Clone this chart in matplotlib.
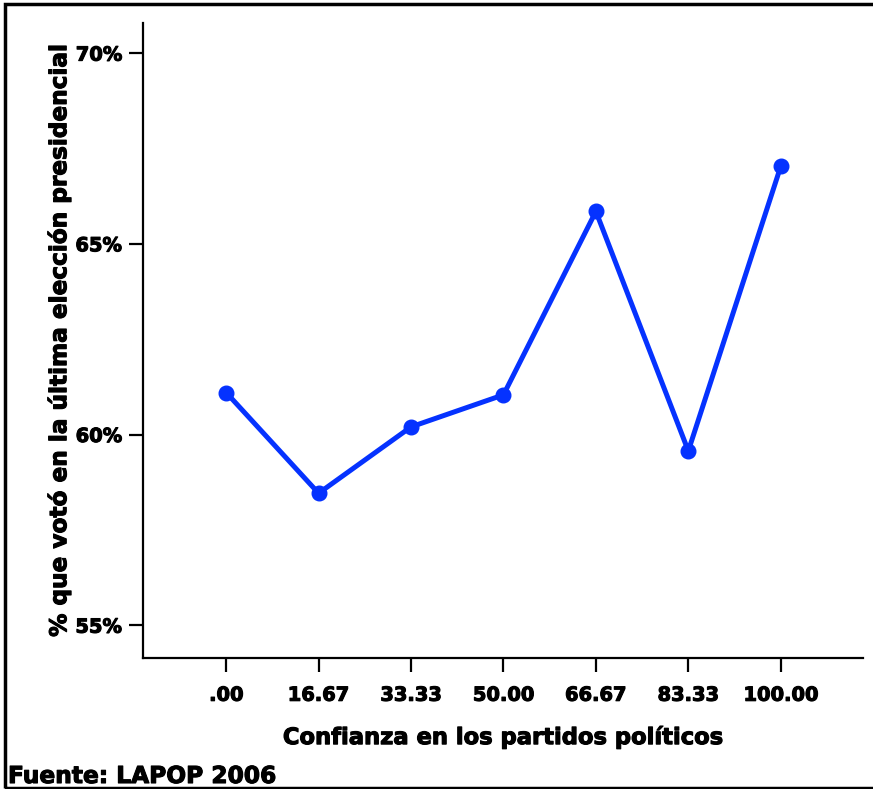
import matplotlib
matplotlib.use("Agg")
import matplotlib.pyplot as plt
from matplotlib.patches import Rectangle
import matplotlib.patheffects as pe

categories = [".00", "16.67", "33.33", "50.00", "66.67", "83.33", "100.00"]
values = [61.10, 58.46, 60.20, 61.04, 65.85, 59.57, 67.03]
yticks = [55, 60, 65, 70]
ytick_labels = ["55%", "60%", "65%", "70%"]

plt.rcParams['font.family'] = ['DejaVu Sans']
plt.rcParams['font.weight'] = 'bold'

heavy = [pe.withStroke(linewidth=0.8, foreground='black')]

W, H = 873, 789
fig = plt.figure(figsize=(W/100, H/100), dpi=100)
ax = fig.add_axes([143/W, 1-658/H, (863-143)/W, (658-23)/H])

x = list(range(len(categories)))
ax.plot(x, values, color='#0532ff', lw=3.6, marker='o', ms=10.5, solid_joinstyle='round')

ax.set_xlim(-0.9, 6.89)
ax.set_ylim(54.14, 70.79)
ax.set_xticks(x)
ax.set_xticklabels(categories, fontsize=14, fontweight='bold', path_effects=heavy)
ax.set_yticks(yticks)
ax.set_yticklabels(ytick_labels, fontsize=14, fontweight='bold', path_effects=heavy)
for s in ['top', 'right']:
    ax.spines[s].set_visible(False)
for s in ['left', 'bottom']:
    ax.spines[s].set_linewidth(1.6)
ax.tick_params(axis='both', direction='out', length=10, width=1.6, pad=5)
ax.tick_params(axis='x', pad=10)

ax.set_xlabel("Confianza en los partidos políticos", fontsize=16.3, fontweight='bold',
              labelpad=15, path_effects=heavy)
ax.set_ylabel("% que votó en la última elección presidencial", fontsize=16.7, fontweight='bold',
              labelpad=3, path_effects=heavy)

fig.text(8/W, 1-783/H, "Fuente: LAPOP 2006", fontsize=16.8, fontweight='bold', ha='left',
         va='baseline', path_effects=heavy)

fig.patches.append(Rectangle((4.5/W, 1.5/H), 2, 1-(1.5+3.5)/H, transform=fig.transFigure,
                             fill=False, ec='black', lw=2.5, clip_on=False))

fig.savefig("out.png", dpi=100)
